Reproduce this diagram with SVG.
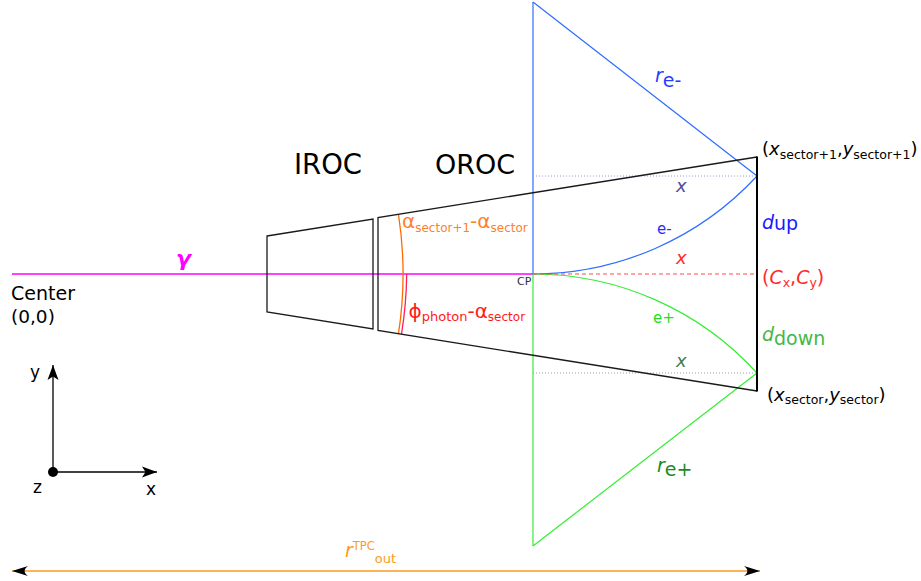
<svg xmlns="http://www.w3.org/2000/svg" width="921" height="581" viewBox="0 0 921 581">
<defs>
<style>
text { font-family: "DejaVu Sans", "Liberation Sans", sans-serif; }
.it { font-style: italic; }
.sec { fill: none; stroke: #1a1a1a; stroke-width: 1.3; }
.blue { fill: none; stroke: #2e6dff; stroke-width: 1.2; }
.green { fill: none; stroke: #33ee33; stroke-width: 1.2; }
.axis { fill: none; stroke: #000; stroke-width: 1.3; }
</style>
<marker id="axArrow" viewBox="-16 -7 17 14" refX="0" refY="0" markerWidth="17" markerHeight="14" orient="auto" markerUnits="userSpaceOnUse">
<path d="M0,0 L-15,-5.5 L-11.5,0 L-15,5.5 Z" fill="#000"/>
</marker>
<marker id="dimArrow" viewBox="-17 -6 18 12" refX="0" refY="0" markerWidth="18" markerHeight="12" orient="auto-start-reverse" markerUnits="userSpaceOnUse">
<path d="M0,0 L-16,-5 C-11.5,-1.8 -11.5,1.8 -16,5 Z" fill="#000"/>
</marker>
</defs>

<g id="connectors">
<path id="photon" d="M12,274 H533" fill="none" stroke="#ff00ff" stroke-width="1.5"/>
<path id="rem-vertical" class="blue" d="M533,274 V2"/>
<path id="rem-radius" class="blue" d="M533,2 L757,176"/>
<path id="electron-track" class="blue" d="M533,274 A305,305 0 0,0 757,176"/>
<path id="rep-vertical" class="green" d="M533,274 V546"/>
<path id="rep-radius" class="green" d="M533,546 L757,373"/>
<path id="positron-track" class="green" d="M533,274 A303,303 0 0,1 757,373"/>
<path id="cx-line" d="M533,274 H757" fill="none" stroke="#ff4b4b" stroke-width="1" stroke-dasharray="4,3"/>
<path id="x-up" d="M533,176 H757" fill="none" stroke="#9a9ae8" stroke-width="1" stroke-dasharray="1,2"/>
<path id="x-down" d="M533,373 H757" fill="none" stroke="#8fa9b4" stroke-width="1" stroke-dasharray="1,2"/>
<path id="alpha-arc" d="M398.5,214.5 A391,391 0 0,1 398.5,333.5" fill="none" stroke="#ff6a00" stroke-width="1.3"/>
<path id="phi-arc" d="M406.7,274 A394.5,394.5 0 0,1 401.5,334" fill="none" stroke="#ff1f5a" stroke-width="1.3"/>
<path id="rtpc-dim" d="M12,571 H760" fill="none" stroke="#ff9a22" stroke-width="1.6" marker-start="url(#dimArrow)" marker-end="url(#dimArrow)"/>
<path id="axis-y" class="axis" d="M53,472 V365" marker-end="url(#axArrow)"/>
<path id="axis-x" class="axis" d="M53,472 H157" marker-end="url(#axArrow)"/>
</g>

<g id="iroc">
<polygon class="sec" points="267,236 373,219 373,329 267,312"/>
<text x="294" y="174" font-size="27.5" fill="#000">IROC</text>
</g>

<g id="oroc">
<path class="sec" d="M757,391 L378,330.5 L378,217.5 L757,157"/>
<path d="M757,156.5 V391.5" fill="none" stroke="#000" stroke-width="2"/>
<text x="435" y="174" font-size="27" fill="#000">OROC</text>
</g>

<g id="labels">
<text x="176" y="266" font-size="22" font-weight="bold" class="it" fill="#ff00ff">γ</text>
<text x="11" y="300" font-size="19" fill="#000">Center</text>
<text x="11" y="323" font-size="18.5" fill="#000">(0,0)</text>
<text x="517" y="285" font-size="11" fill="#333">CP</text>

<text x="402" y="227.5" font-size="20" fill="#ff7f2a">α<tspan font-size="12" dy="4">sector+1</tspan><tspan dy="-4">-α</tspan><tspan font-size="12" dy="4">sector</tspan></text>
<text x="408.5" y="318" font-size="20" fill="#ff1a1a">ϕ<tspan font-size="13" dy="3">photon</tspan><tspan dy="-3">-α</tspan><tspan font-size="12" dy="3">sector</tspan></text>

<text x="655" y="82" font-size="19" fill="#1f3fff"><tspan class="it">r</tspan><tspan dy="5">e-</tspan></text>
<text x="676" y="192" font-size="18" class="it" fill="#4d4d9e">x</text>
<text x="657" y="234" font-size="15" fill="#2a2aff">e-</text>
<text x="676" y="264" font-size="18" class="it" fill="#ff2a2a">x</text>
<text x="762" y="229" font-size="19" fill="#1a1aff"><tspan class="it">d</tspan><tspan dy="1">up</tspan></text>
<text x="762" y="284" font-size="19" fill="#ff2a2a">(<tspan class="it">C</tspan><tspan font-size="12.5" dy="3">x</tspan><tspan dy="-3">,</tspan><tspan class="it">C</tspan><tspan font-size="12.5" dy="3">y</tspan><tspan dy="-3">)</tspan></text>
<text x="762" y="155" font-size="18" fill="#000">(<tspan class="it">x</tspan><tspan font-size="12.5" dy="4">sector+1</tspan><tspan dy="-4">,</tspan><tspan class="it">y</tspan><tspan font-size="12.5" dy="4">sector+1</tspan><tspan dy="-4">)</tspan></text>

<text x="653" y="323" font-size="15" fill="#22dd22">e+</text>
<text x="762" y="341" font-size="19" fill="#45b845"><tspan class="it">d</tspan><tspan dy="4">down</tspan></text>
<text x="676" y="367" font-size="18" class="it" fill="#4a7a4a">x</text>
<text x="767" y="401" font-size="18" fill="#000">(<tspan class="it">x</tspan><tspan font-size="12.5" dy="3">sector</tspan><tspan dy="-3">,</tspan><tspan class="it">y</tspan><tspan font-size="12.5" dy="3">sector</tspan><tspan dy="-3">)</tspan></text>
<text x="657" y="472" font-size="19" fill="#1a8c1a"><tspan class="it">r</tspan><tspan dy="4">e+</tspan></text>

<text x="345" y="557" font-size="19" fill="#ff9a22"><tspan class="it">r</tspan><tspan font-size="11.5" dy="-7">TPC</tspan><tspan font-size="13" dy="12.7">out</tspan></text>
</g>

<g id="axes">
<circle cx="53" cy="472" r="5" fill="#000"/>
<text x="30" y="378" font-size="17" fill="#000">y</text>
<text x="33" y="493" font-size="17" fill="#000">z</text>
<text x="146" y="495" font-size="17" fill="#000">x</text>
</g>
</svg>
